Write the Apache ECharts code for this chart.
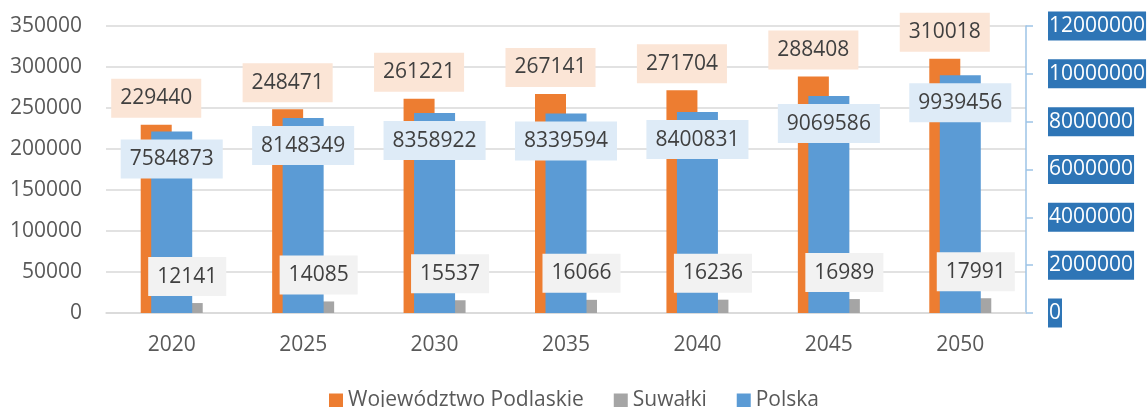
<!DOCTYPE html>
<html>
<head>
<meta charset="utf-8">
<script src="https://cdn.jsdelivr.net/npm/echarts@6/dist/echarts.min.js"></script>
<style>
  html, body { margin: 0; padding: 0; background: #fff; }
  #chart { width: 1148px; height: 407px; }
</style>
</head>
<body>
<div id="chart"></div>
<script>
// lata prognozy
const years = ['2020', '2025', '2030', '2035', '2040', '2045', '2050'];
const podlaskie = [229440, 248471, 261221, 267141, 271704, 288408, 310018];
const suwalki = [12141, 14085, 15537, 16066, 16236, 16989, 17991];
const polska = [7584873, 8148349, 8358922, 8339594, 8400831, 9069586, 9939456];

const font = 'Open Sans';
const myChart = echarts.init(document.querySelector('#chart'));

const labelBox = (bg, pos, dist) => ({
    show: true,
    position: pos,
    distance: dist,
    fontFamily: font,
    fontSize: 21,
    color: '#404040',
    backgroundColor: bg,
    padding: [9, 9, 9, 9]
});

const option = {
    animation: false,
    grid: { left: 106, right: 122, top: 26, bottom: 94, outerBoundsMode: 'none' },
    legend: {
        top: 385,
        left: 'center',
        itemWidth: 14,
        itemHeight: 14,
        itemGap: 30,
        icon: 'rect',
        textStyle: { fontFamily: font, fontSize: 21, color: '#595959' },
        data: ['Województwo Podlaskie', 'Suwałki', 'Polska']
    },
    xAxis: [
        {
            type: 'category',
            data: years,
            axisTick: { show: false },
            axisLine: { lineStyle: { color: '#D9D9D9', width: 1.5 } },
            axisLabel: { margin: 22, fontFamily: font, fontSize: 21, color: '#595959' }
        },
        {
            type: 'category',
            data: years,
            show: false
        }
    ],
    yAxis: [
        {
            type: 'value',
            min: 0,
            max: 350000,
            interval: 50000,
            axisLabel: { margin: 24, fontFamily: font, fontSize: 21, color: '#595959', formatter: v => String(v) },
            splitLine: { lineStyle: { color: '#D9D9D9', width: 1.5 } }
        },
        {
            type: 'value',
            position: 'right',
            min: 0,
            max: 12000000,
            interval: 2000000,
            splitLine: { show: false },
            axisLine: { show: true, lineStyle: { color: '#9DC3E6', width: 1.5 } },
            axisTick: { show: true, length: 7, lineStyle: { color: '#9DC3E6', width: 1.5 } },
            axisLabel: {
                margin: 22,
                fontFamily: font,
                fontSize: 21,
                color: '#fff',
                backgroundColor: '#2E75B6',
                padding: [4, 1, 4, 1],
                formatter: v => String(v)
            }
        }
    ],
    series: [
        {
            name: 'Województwo Podlaskie',
            type: 'bar',
            data: podlaskie,
            barWidth: 31,
            barGap: '0%',
            itemStyle: { color: '#ED7D31' },
            label: labelBox('#FBE5D6', 'top', 7)
        },
        {
            name: 'Suwałki',
            type: 'bar',
            data: suwalki,
            barWidth: 31,
            itemStyle: { color: '#A5A5A5' },
            label: labelBox('#F2F2F2', 'top', 7)
        },
        {
            name: 'Polska',
            type: 'bar',
            xAxisIndex: 1,
            yAxisIndex: 1,
            data: polska,
            barWidth: 41,
            itemStyle: { color: '#5B9BD5' },
            label: labelBox('#DEEBF7', 'insideTop', 8)
        }
    ]
};
myChart.setOption(option);
</script>
</body>
</html>
